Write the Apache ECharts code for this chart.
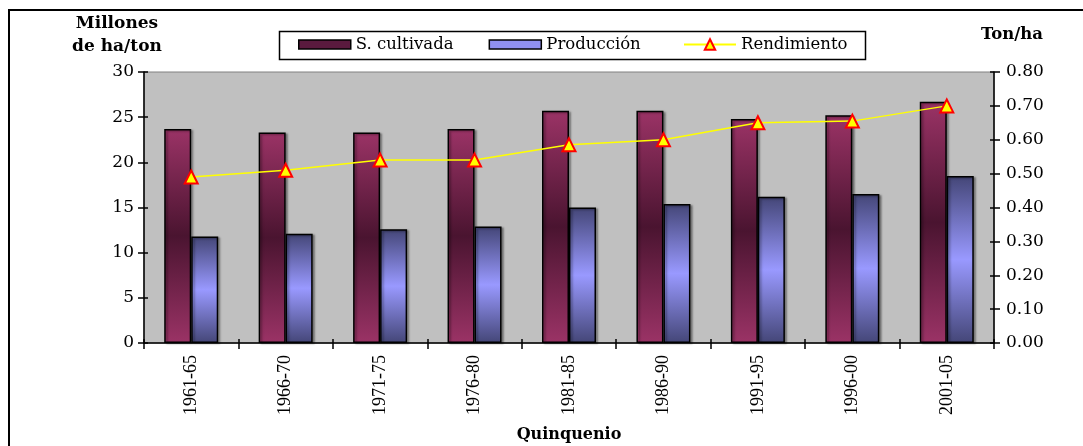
<!DOCTYPE html>
<html>
<head>
<meta charset="utf-8">
<script src="https://cdn.jsdelivr.net/npm/echarts@6/dist/echarts.min.js"></script>
<style>
  html, body { margin: 0; padding: 0; background: #ffffff; }
  #chart { width: 1083px; height: 446px; }
</style>
</head>
<body>
<div id="chart"></div>
<script>
// Quinquennial periods
const quinquenios = ['1961-65', '1966-70', '1971-75', '1976-80', '1981-85', '1986-90', '1991-95', '1996-00', '2001-05'];
// Cultivated area (millions of ha)
const superficieCultivada = [23.7, 23.3, 23.3, 23.7, 25.7, 25.7, 24.8, 25.2, 26.7];
// Production (millions of tons)
const produccion = [11.8, 12.1, 12.6, 12.9, 15.0, 15.4, 16.2, 16.5, 18.5];
// Yield (ton/ha)
const rendimiento = [0.49, 0.51, 0.54, 0.54, 0.585, 0.60, 0.65, 0.655, 0.70];

const SERIF = 'DejaVu Serif';
const TNR = 'Liberation Serif';

const gradCultivada = new echarts.graphic.LinearGradient(0, 0, 0, 1, [
  { offset: 0, color: '#9b3366' },
  { offset: 0.5, color: '#4a1430' },
  { offset: 1, color: '#9b3366' }
]);
const gradProduccion = new echarts.graphic.LinearGradient(0, 0, 0, 1, [
  { offset: 0, color: '#444677' },
  { offset: 0.5, color: '#9999ff' },
  { offset: 1, color: '#444677' }
]);

const chart = echarts.init(document.getElementById('chart'), null, { renderer: 'canvas' });

const barShadow = {
  shadowColor: 'rgba(0,0,0,0.35)',
  shadowBlur: 2,
  shadowOffsetX: 2,
  shadowOffsetY: 1
};

const legendText = { fontFamily: SERIF, fontSize: 16.5, color: '#000000' };

chart.setOption({
  animation: false,
  backgroundColor: '#ffffff',
  grid: {
    left: 144, right: 89, top: 72, bottom: 103,
    show: true,
    backgroundColor: '#c0c0c0',
    borderColor: '#808080',
    borderWidth: 1
  },
  legend: [
    {
      // bar series keys
      left: 298, top: 36,
      orient: 'horizontal',
      padding: 0,
      itemWidth: 52,
      itemHeight: 9,
      itemGap: 35,
      textStyle: legendText,
      data: [
        { name: 'S. cultivada', icon: 'rect', itemStyle: { color: '#5a1a3e', borderColor: '#000', borderWidth: 1.5 } },
        { name: 'Producción', icon: 'rect', itemStyle: { color: '#8f8ff0', borderColor: '#000', borderWidth: 1.5 } }
      ]
    },
    {
      // line series key
      left: 683, top: 36,
      orient: 'horizontal',
      padding: 0,
      itemWidth: 52,
      itemHeight: 13,
      textStyle: legendText,
      data: [{ name: 'Rendimiento' }]
    }
  ],
  xAxis: [
    {
      type: 'category',
      data: quinquenios,
      boundaryGap: true,
      axisLine: { lineStyle: { color: '#000000', width: 1.5 } },
      axisTick: { show: true, length: 6, lineStyle: { color: '#000000', width: 1.5 } },
      axisLabel: { rotate: 90, margin: 12, fontFamily: TNR, fontSize: 18, color: '#000000' },
      splitLine: { show: false }
    },
    {
      // inner half of the crossing ticks
      type: 'category',
      data: quinquenios,
      position: 'bottom',
      boundaryGap: true,
      axisLine: { show: false },
      axisTick: { show: true, inside: true, length: 4, lineStyle: { color: '#000000', width: 1.5 } },
      axisLabel: { show: false },
      splitLine: { show: false }
    }
  ],
  yAxis: [
    {
      type: 'value',
      position: 'left',
      min: 0, max: 30, interval: 5,
      axisLine: { show: true, lineStyle: { color: '#000000', width: 1.5 } },
      axisTick: { show: true, length: 6, lineStyle: { color: '#000000', width: 1.5 } },
      axisLabel: { margin: 10, fontFamily: SERIF, fontSize: 17, color: '#000000' },
      splitLine: { show: false }
    },
    {
      type: 'value',
      position: 'right',
      min: 0, max: 0.8, interval: 0.1,
      axisLine: { show: true, lineStyle: { color: '#000000', width: 1.5 } },
      axisTick: { show: true, length: 6, lineStyle: { color: '#000000', width: 1.5 } },
      axisLabel: {
        margin: 12, fontFamily: SERIF, fontSize: 17, color: '#000000',
        formatter: v => v.toFixed(2)
      },
      splitLine: { show: false }
    },
    {
      type: 'value',
      position: 'left',
      min: 0, max: 30, interval: 5,
      axisLine: { show: false },
      axisTick: { show: true, inside: true, length: 4, lineStyle: { color: '#000000', width: 1.5 } },
      axisLabel: { show: false },
      splitLine: { show: false }
    },
    {
      type: 'value',
      position: 'right',
      min: 0, max: 0.8, interval: 0.1,
      axisLine: { show: false },
      axisTick: { show: true, inside: true, length: 4, lineStyle: { color: '#000000', width: 1.5 } },
      axisLabel: { show: false },
      splitLine: { show: false }
    }
  ],
  series: [
    {
      name: 'S. cultivada',
      type: 'bar',
      xAxisIndex: 0,
      yAxisIndex: 0,
      data: superficieCultivada,
      barWidth: 27,
      barGap: '0%',
      itemStyle: Object.assign({ color: gradCultivada, borderColor: '#000000', borderWidth: 1.5 }, barShadow)
    },
    {
      name: 'Producción',
      type: 'bar',
      xAxisIndex: 0,
      yAxisIndex: 0,
      data: produccion,
      barWidth: 27,
      barGap: '0%',
      itemStyle: Object.assign({ color: gradProduccion, borderColor: '#000000', borderWidth: 1.5 }, barShadow)
    },
    {
      name: 'Rendimiento',
      type: 'line',
      xAxisIndex: 0,
      yAxisIndex: 1,
      data: rendimiento,
      symbol: 'triangle',
      symbolSize: 13,
      lineStyle: { color: '#ffff00', width: 1.5 },
      itemStyle: { color: '#ffff00', borderColor: '#ff0000', borderWidth: 2 },
      z: 5
    }
  ],
  graphic: [
    {
      type: 'rect',
      silent: true,
      shape: { x: 9, y: 10, width: 1200, height: 600 },
      style: { fill: null, stroke: '#000000', lineWidth: 2 }
    },
    {
      // legend frame
      type: 'rect',
      silent: true,
      shape: { x: 279.5, y: 31.5, width: 586, height: 28 },
      style: { fill: null, stroke: '#000000', lineWidth: 1.5 }
    },
    {
      type: 'text', silent: true,
      style: { text: 'Millones', x: 117, y: 24, align: 'center', verticalAlign: 'middle',
        font: 'bold 17px "DejaVu Serif"', fill: '#000000' }
    },
    {
      type: 'text', silent: true,
      style: { text: 'de ha/ton', x: 117, y: 47, align: 'center', verticalAlign: 'middle',
        font: 'bold 17px "DejaVu Serif"', fill: '#000000' }
    },
    {
      type: 'text', silent: true,
      style: { text: 'Ton/ha', x: 1012, y: 35, align: 'center', verticalAlign: 'middle',
        font: 'bold 16.5px "DejaVu Serif"', fill: '#000000' }
    },
    {
      type: 'text', silent: true,
      style: { text: 'Quinquenio', x: 569, y: 435, align: 'center', verticalAlign: 'middle',
        font: 'bold 16px "DejaVu Serif"', fill: '#000000' }
    }
  ]
});
</script>
</body>
</html>
